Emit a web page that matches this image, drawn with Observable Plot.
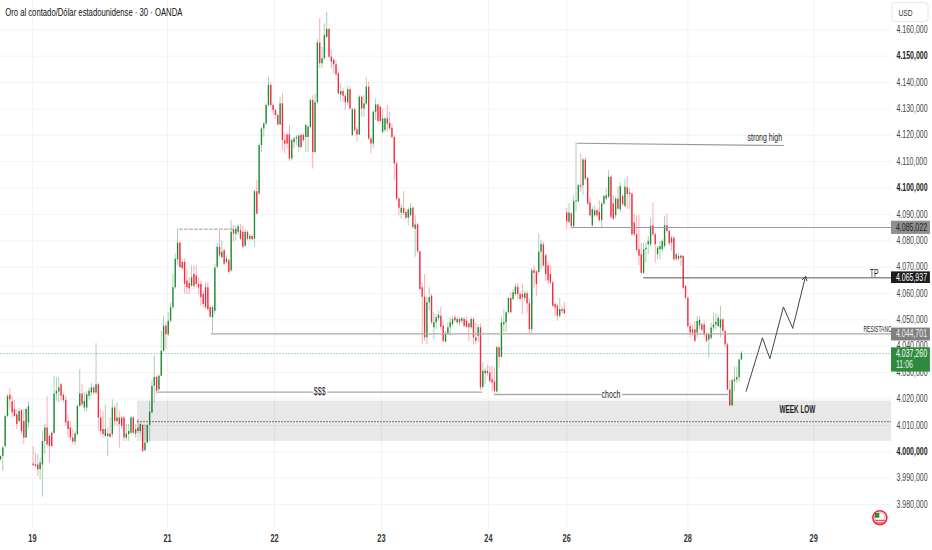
<!DOCTYPE html>
<html><head><meta charset="utf-8">
<script src="https://cdn.jsdelivr.net/npm/d3@7"></script>
<script src="https://cdn.jsdelivr.net/npm/@observablehq/plot@0.6"></script>
<style>html,body{margin:0;padding:0;background:#fff}svg{display:block}</style>
</head><body><div id="chart"></div>
<script>
const open = [
3997,3998.2,4002,4013.4,4021.4,4019,4016,4014,4011.5,4015.6,
4011.5,4005.2,4010.9,null,3995.4,3995,3995,3993.2,3995,4003.9,
4009,4005.8,4007,4007,4021.9,4022.7,4025.4,4021.4,4019.4,4011.5,
4009,4005.2,4003.7,4006.5,4017.2,4021.9,4016.6,4016.6,4021,4022.3,
4024.2,4022.3,4025.4,4012.8,4008.4,4005.8,4005.8,4006.7,4006.5,4016.6,
4011.5,4012.8,4012.8,4012.8,4005.2,4006.5,4007,4012.8,4006.7,4009,
4007.7,4010,4000.4,4003.3,4010,4014.7,4024.8,4028.2,4023.5,4028.6,
4038.1,4047.6,4044.4,4049.5,4054.6,4062.2,4072.8,4079.1,4071.8,4071.8,
4064.7,4063.8,4062.8,4067.2,4066.6,4063.4,4063.4,4059.6,4062.2,4062.2,
4054.6,4050.8,4053.3,4070,4077.5,4073.7,4076.2,4071.8,4072.4,4068.6,
4084.2,4082.5,4083.2,4083.8,4083.2,4078,4083.2,4080.6,4081.6,4080.6,
4098.6,4097.7,4116.1,4122.4,4124.3,4131.3,4138.9,4131.3,4129.4,4127.5,
4123.9,4131.9,4118,4120.1,4120.1,4111,4117.3,4118.6,4115.4,4119.9,
4119.9,4119.2,4119.2,4123,4133.2,4113.5,4132.3,4155,4147.1,4149,
4157.2,4160.1,4149.6,4148.4,4146.7,4143.3,4135.3,4136.6,4134.8,4132.3,
4137.3,4119.9,4129.7,4122,4120.1,4134.4,4130,4131.9,4138.2,4118.6,
4116.7,4128.7,4131.5,4130.6,4121.1,4121.8,4126.2,4124.6,4122.7,4119.2,
4109.1,4095.8,4090.4,4092.3,4090.7,4088.5,4089.5,4092.3,4084.4,4086,
4075.8,4062.2,4058.6,4043.2,4056.5,4059,4047,4048.9,4050.5,4051.4,
4047.6,4041.5,4044.7,4047,4048.2,4050.8,4048.9,4050.1,4049.5,4050.1,
4049.5,4048.5,4047,4050.1,4043.2,4043.8,4047,4024.4,4029.6,4030.5,
4029.9,4027.3,4026.5,4022.7,4039.4,4035.8,4048.2,4048.9,4052.7,4058.1,
4057.7,4059.6,4062.4,4059.6,4059.6,4058.1,4059.9,4056.1,4046.3,4068.6,
4068.2,4068,4075.6,4078.4,4074.3,4070.5,4067.2,4064,4055.8,4055.2,
4051.4,4053.9,4053.9,4090.5,4087,4090.1,4085.4,4094.8,4094.8,4100.9,
4100.9,4110.6,4103.7,4094.3,4085.7,4089.5,4091.4,4090.8,4087.6,4093.9,
4095.8,4096.5,4104.1,4093.9,4089.5,4095.8,4091.8,4096.8,4093,4100,
4098.1,4097.7,4086.7,4082.3,4076.6,4074.7,4067.7,4076.6,4078.5,4078.5,
4085.7,4082.3,4074.7,4076.6,4076.6,4077.8,4085.7,4083.5,4081,4081,
4073,4074.1,4073.4,4074.1,4062.7,4058.2,4047.5,4046.2,4046.2,4045,
4047.7,4048.1,4048.1,4044.3,4042.4,4043,4046.9,4048.1,4047.5,4046.9,
4050,4045.6,4040.5,4023.4,4017.4,4026.6,4027.2,4028.1,4034.8];
const high = [
3998.5,4002,4014,4021.6,4024,4021,4019.4,4016,4016.5,4016,
4016,4016.6,4019,null,4002,3999.5,3998.9,3997.6,4007.7,4010.3,
4021,4006.5,4007.7,4028.6,4028,4028,4026,4022.3,4021,4014,
4011.5,4008.4,4007.7,4017.8,4031.1,4025.4,4022.3,4022.9,4024.2,4026,
4024.8,4041,4026,4016,4015.3,4017.8,4009,4012.8,4019.7,4017.2,
4018.5,4015.3,4013.4,4013.4,4010.3,4010.3,4013.4,4013.4,4010.3,4012.2,
4010.9,4010.3,4010.3,4010.3,4019.1,4027,4036.2,4028.6,4029.2,4045.7,
4051.4,4048.9,4052.7,4056.5,4067.2,4075,4084.4,4079.4,4073,4073,
4069,4066,4070.5,4070.5,4070.5,4065.9,4064.7,4060.9,4064.1,4064.1,
4055.2,4055.2,4071,4079,4083.8,4080,4076.8,4074.3,4073,4087.6,
4085.7,4085.7,4086.3,4086.3,4085.7,4084.4,4083.8,4082.5,4082.5,4099,
4102.8,4116.7,4123,4124.9,4131.9,4142,4139.5,4131.9,4130,4128.1,
4134.4,4136,4120.5,4120.5,4123.7,4118.6,4119.2,4119.9,4120.5,4120.5,
4120.5,4124.3,4123.7,4133.8,4135,4135.7,4156.3,4164.2,4153.4,4162.3,
4166.7,4160.6,4152.2,4149,4148.4,4143.9,4139.5,4137.6,4135.7,4138.6,
4138.2,4130.3,4130.3,4123,4135,4135,4135,4141.6,4140.1,4119.2,
4129.4,4133.8,4131.9,4131,4130,4126.8,4131.3,4128.7,4124.3,4119.9,
4109.7,4096.5,4093.6,4098.6,4091.7,4092.3,4094.2,4093,4089.5,4086.7,
4076,4064,4067.2,4058.6,4062.2,4059.6,4052.7,4052,4053.3,4054.8,
4049.5,4045.7,4048.9,4050.8,4051.4,4051.8,4051,4050.8,4051,4050.8,
4050.8,4048.9,4051,4050.8,4048.9,4048.2,4048.5,4033.7,4031.8,4032.8,
4032.4,4032.4,4031.8,4040,4039.6,4051.4,4053.9,4053.3,4058.6,4060.3,
4061.5,4063.7,4064,4060.3,4063.4,4060.9,4060.9,4058,4069.5,4070.5,
4068.8,4082.5,4080,4079.4,4075,4071.8,4070.5,4064.7,4056.5,4056.1,
4058.1,4055.2,4056.5,4092.3,4093.9,4090.8,4097.1,4117.1,4101.5,4112.9,
4111.3,4111.3,4104,4096.5,4092.7,4093.3,4092,4095.2,4094.6,4097.3,
4099.6,4106.6,4104.7,4097.1,4096.5,4100.3,4101.9,4097.5,4103.2,4104.2,
4100,4098.1,4089.9,4089.5,4089.6,4079.1,4079.1,4079.1,4081.6,4088.6,
4094.3,4082.9,4077.8,4079.7,4080.4,4089.2,4089.9,4084.2,4081.6,4081.6,
4075.3,4075.3,4074.7,4074.3,4063,4058.6,4048.8,4048.1,4049.4,4051.3,
4051.3,4048.8,4049.4,4045,4045,4048.8,4052.5,4052.5,4051.9,4055.1,
4050.6,4046.2,4041.2,4027,4027.5,4032.3,4032,4035,4038];
const low = [
3996.5,3992.5,4001.4,4012.8,4016.6,4012.8,4012.8,4008.4,4010.9,4006.5,
4002.7,4004.9,4009,null,3994.4,3993.8,3990.6,3989.4,3982.8,3998.9,
4002,3995.7,4001.4,4006.5,4019,4018.5,4019,4018.5,4009.6,4005.2,
4003.9,4002.7,4002.4,4006.2,4016.6,4017.2,4015.3,4015,4019.7,4021,
4021.6,4021.6,4007.7,4006.5,4005.2,4005.2,3998.2,4005.2,4005.2,4009.6,
4009.6,4001.4,4008.4,4003.9,4003.9,4003.9,4006.5,4006.5,4005.2,4007,
4006.5,3999.9,4000.1,4003.3,4003.9,4014.3,4018.5,4021.6,4022.9,4028.6,
4037.8,4038.7,4043.8,4048.9,4053.9,4061.5,4070.5,4069.2,4068.6,4059.8,
4059.6,4059.6,4062.2,4061.5,4062.2,4059.6,4055.2,4054.6,4053.9,4053.3,
4050.8,4044.8,4052,4069.5,4073.7,4073,4070.5,4071.1,4067.3,4068,
4079.4,4080,4082,4080,4077,4077.5,4080,4080,4080,4077.5,
4090.1,4097,4113.5,4119.2,4123.7,4130.6,4130.6,4127.5,4126.2,4123.7,
4123.7,4114.2,4112.9,4114.8,4110.1,4110.4,4114.8,4116,4113.5,4114.8,
4117.3,4113.5,4113.5,4122.4,4107.2,4112.9,4131.9,4145.2,4145.2,4148.4,
4156.6,4149.2,4145.2,4143.3,4142.4,4135.3,4132.5,4132.5,4129.4,4131.3,
4129.7,4119.6,4121.1,4117.3,4119.9,4126.8,4126.8,4131.3,4118,4112.9,
4114.8,4125.6,4124.7,4124.7,4120.5,4121.1,4121.1,4121.8,4118.6,4102.8,
4095.2,4089.5,4088.2,4089.5,4087.9,4085.7,4088.9,4084.4,4073.7,4075.3,
4061,4040.6,4041.9,4040.6,4053.3,4048.2,4042.5,4046.3,4049.5,4046.3,
4041.3,4041.3,4044.2,4043.8,4047.6,4048.9,4048.2,4047.6,4048.5,4047,
4046.7,4041.9,4046.3,4040.4,4040.6,4041.3,4023.2,4023.5,4025.4,4028.6,
4026.1,4022.7,4022.3,4022.3,4031.8,4035.6,4045.1,4045.1,4052.3,4052.3,
4057.1,4059,4057.7,4057.1,4052,4057.1,4052.3,4044.7,4044.7,4062,
4059,4067,4069.2,4069.9,4064.7,4063.4,4063.4,4054.6,4051.4,4049.5,
4050.8,4052.3,4052,4084.4,4086.3,4084.4,4084.7,4090.8,4094.3,4098.4,
4097.1,4102.8,4093.5,4088.9,4085,4088.9,4088.9,4087,4085,4093.3,
4095.2,4095.8,4088.2,4087.6,4088.2,4091.4,4090.5,4093,4092.4,4091.8,
4091.8,4081.6,4081.6,4075.3,4070.6,4067.1,4067.1,4071.5,4074.7,4077.8,
4081.6,4071.5,4072.8,4072.8,4075.3,4077.2,4082.9,4078.1,4075.9,4072.2,
4072.2,4072.2,4070.3,4061.4,4057.5,4046.9,4043,4043.7,4041.2,4043,
4046.2,4045.6,4043,4041.2,4035.5,4042.4,4045.6,4046.2,4046.9,4043,
4045,4039.3,4023.2,4017.1,4017.1,4022.8,4026,4026.2,4034.6];
const close = [
3998.2,4001.4,4013.4,4021,4019.7,4014.7,4013.4,4010.3,4015.3,4007.7,
4005.2,4016,4017.2,null,3994.8,3994.4,3993.2,3995.7,4003.9,4009,
4002.7,4002,4002,4021.9,4022.9,4024.2,4021,4019.4,4010.9,4008.4,
4005.2,4003.7,4006.7,4017.2,4021.9,4017.8,4019.1,4021.6,4022.9,4024.2,
4022.3,4025.4,4012.8,4007.7,4006.5,4008.4,4006.7,4005.4,4016.6,4011.5,
4012.8,4010.3,4009.6,4005.2,4006.7,4007.7,4012.8,4007,4008.4,4007.7,
4010.3,4000.1,4003.3,4010,4015,4024.8,4028.2,4022.9,4028.6,4038.1,
4047.6,4044.4,4049.5,4054.6,4062.2,4073,4079.1,4069.9,4069.5,4063.5,
4062.2,4061.8,4066,4062.8,4063.4,4062.2,4058.4,4055.8,4054.6,4053.9,
4051,4054.6,4069.7,4077.5,4074.3,4075.6,4071.1,4073,4068,4083.2,
4082.5,4084.4,4085.3,4080.6,4077.5,4083.2,4080.6,4081.6,4080.4,4098.6,
4090.1,4116.1,4122.4,4124.3,4131.3,4138.9,4131.3,4129.4,4127.5,4123.9,
4131.9,4118,4116.7,4116.7,4111,4118,4118.6,4119.2,4119.6,4115.4,
4118,4123.7,4123,4133.2,4113.5,4132.3,4155,4147.1,4149,4157.8,
4160.1,4149.6,4147.7,4146.7,4142.9,4135.7,4136.6,4134.8,4132.3,4137.3,
4130,4129.7,4121.8,4120.1,4134.4,4130,4131.9,4138.2,4118.6,4116.7,
4128.7,4131.5,4125.2,4125.2,4126.2,4126.2,4124.3,4122.4,4119.2,4109.1,
4095.8,4092.3,4092.3,4090.4,4088.5,4091.7,4092.3,4085,4086,4075.8,
4061.5,4058.6,4043.2,4056.5,4058.4,4048.9,4048.9,4050.8,4051.8,4047.2,
4041.9,4044.7,4047,4048.9,4050.1,4049.7,4050.1,4048.9,4050.4,4047.6,
4047.2,4047,4050.1,4043.2,4041.9,4047,4024.2,4030.5,4030.5,4029.7,
4026.7,4026.1,4022.9,4039.4,4035.8,4048.9,4048.9,4052.7,4058.1,4052.7,
4060.3,4062.4,4059.6,4057.7,4058.4,4059.9,4056.1,4046.3,4068.6,4067.7,
4063.4,4075.6,4078.7,4070.5,4067.2,4064.7,4064,4055.2,4054.6,4051.4,
4053.9,4053.3,4052.3,4087.2,4090.5,4085.4,4094.8,4095.2,4100.9,4100.3,
4110.6,4103.4,4093.9,4089.5,4091.8,4091.4,4089.5,4087.6,4093.9,4096.8,
4097.1,4104.1,4088.9,4088.2,4095.8,4092,4100.6,4093.7,4100.4,4097.5,
4097.5,4082.3,4082.3,4076.3,4074.1,4067.7,4076.6,4077.2,4079.7,4085.4,
4082.3,4078.5,4077.2,4077.8,4079.7,4085.7,4083.5,4078.9,4079.1,4072.8,
4074.7,4073,4074.1,4062,4058.2,4047.5,4045,4045,4041.8,4049.4,
4049.8,4046.2,4044.3,4041.8,4044.3,4046.9,4048.1,4049,4050.6,4050,
4045.6,4040.5,4023.4,4017.4,4026.9,4027.2,4028.2,4034.8,4037.3];

const priceLevels = [4160,4140,4130,4120,4110,4090,4080,4070,4060,4050,4040,4030,4020,4010,3990,3980];
const boldLevels = [4150,4100,4000];
const dayIndex = [13.7,71.7,117.6,163.5,209.4,243,295,349];
const dayLabels = ["19","21","22","23","24","26","28","29"];
const pathIndex = [320,327,330.2,336,340];
const pathPrice = [4022.9,4043.2,4035.3,4054.9,4046.9];

const bars = open.map((o,i)=>({i,o,h:high[i],l:low[i],c:close[i]})).filter(d=>d.o!==null);
const UP="#1f8a34", DOWN="#f5283f";
const color=d=>d.c>=d.o?UP:DOWN;
const fmt=v=>{const s=v.toFixed(0);return s[0]+"."+s.slice(1)+",000";};
const F='"Liberation Sans",sans-serif';
const END=382.4;
const seg=(x1,x2,y1,y2,opt)=>Plot.line([{x:x1,y:y1},{x:x2,y:y2}],{x:"x",y:"y",...opt});
const label=(x,y,t,opt)=>Plot.text([t],{x:()=>x,y:()=>y,text:d=>d,fontFamily:F,fontSize:10,fill:"#222",...opt});
const tag=(y1,y2,fill)=>Plot.rect([0],{x1:()=>END,x2:()=>399.1,y1:()=>y1,y2:()=>y2,fill});

const chart=Plot.plot({
  width:932,height:550,marginTop:0,marginLeft:0,marginRight:41,marginBottom:22,
  x:{domain:[0,END],axis:null},
  y:{domain:[3970.9,4171.1],axis:null},
  style:{background:"#fff",fontFamily:F},
  marks:[
    Plot.ruleY(priceLevels.concat(boldLevels),{stroke:"#f3f3f3"}),
    Plot.ruleX(dayIndex,{stroke:"#f3f3f3"}),
    seg(0,END,4037.26,4037.26,{stroke:"#a9d6b1",strokeDasharray:"1 2",strokeWidth:1}),
    Plot.ruleX(bars,{x:"i",y1:"l",y2:"h",stroke:color,strokeOpacity:.38,strokeWidth:1}),
    Plot.ruleX(bars,{x:"i",y1:"o",y2:"c",stroke:color,strokeWidth:1.35}),
    Plot.rect([0],{x1:()=>58.8,x2:()=>END,y1:()=>4003.9,y2:()=>4019.2,fill:"#000",fillOpacity:.09}),
    seg(58.8,END,4011.4,4011.4,{stroke:"#666",strokeDasharray:"1 2",strokeWidth:1}),
    seg(76.8,99.6,4084.4,4084.4,{stroke:"#999",strokeDasharray:"3 2",strokeWidth:1}),
    seg(90.5,END,4044.7,4044.7,{stroke:"#aaa",strokeWidth:1.4}),
    seg(67.5,134,4022.6,4022.6,{stroke:"#aaa",strokeWidth:1.4}),
    seg(140.6,206.5,4022.6,4022.6,{stroke:"#aaa",strokeWidth:1.4}),
    seg(212,257.5,4021.7,4021.7,{stroke:"#aaa",strokeWidth:1.4}),
    seg(267,312,4021.7,4021.7,{stroke:"#aaa",strokeWidth:1.4}),
    seg(247.5,336,4117,4116.1,{stroke:"#999",strokeWidth:1.1}),
    seg(245,END,4085.022,4085.022,{stroke:"#999",strokeWidth:1}),
    seg(276,END,4065.937,4065.937,{stroke:"#555",strokeWidth:1}),
    Plot.line(pathIndex.map((x,i)=>({x,y:pathPrice[i]})),{x:"x",y:"y",stroke:"#444",strokeWidth:1}),
    Plot.arrow([0],{x1:()=>340,y1:()=>4046.9,x2:()=>345.5,y2:()=>4066.5,stroke:"#444",strokeWidth:1,headLength:7,bend:0}),
    label(137,4022.6,"$$$"),
    label(262,4021.7,"choch"),
    label(328,4118.9,"strong high"),
    label(375,4067.3,"TP"),
    label(370.4,4046.4,"RESISTANCE",{textAnchor:"start",fontSize:9}),
    label(342,4016,"WEEK LOW",{fontWeight:"bold",fontSize:10}),
    label(2,4166.7,"Oro al contado/Dólar estadounidense · 30 · OANDA",{textAnchor:"start",fontSize:11,fill:"#111"}),
    // price panel covers anything running past the plot area
    Plot.rect([0],{x1:()=>END,x2:()=>401,y1:()=>3962,y2:()=>4172,fill:"#fff"}),
    Plot.dot([0],{x:()=>377.4,y:()=>3975,r:7,stroke:"#e8303c",strokeWidth:1.6,fill:"#fff"}),
    Plot.dot([0],{x:()=>377.4,y:()=>3975,r:5,stroke:"#f3a0a6",strokeWidth:1,fill:"#fff"}),
    Plot.rect([0],{x1:()=>375.4,x2:()=>377.4,y1:()=>3974.8,y2:()=>3976.6,fill:"#2e8b3d"}),
    seg(375.4,379.4,3974,3974,{stroke:"#e8303c",strokeWidth:1}),
    seg(375.4,379.4,3973,3973,{stroke:"#e8303c",strokeWidth:1}),
    Plot.axisX({ticks:dayIndex,tickFormat:v=>dayLabels[dayIndex.indexOf(v)],tickSize:0,tickPadding:6,label:null,fontSize:10.5,fontWeight:"bold",fill:"#333"}),
    Plot.axisY({anchor:"right",ticks:priceLevels,tickFormat:fmt,tickSize:0,tickPadding:5,label:null,fontSize:10,fill:"#444"}),
    Plot.axisY({anchor:"right",ticks:boldLevels,tickFormat:fmt,tickSize:0,tickPadding:5,label:null,fontSize:10,fontWeight:"bold",fill:"#222"}),
    Plot.rect([0],{x1:()=>382.8,x2:()=>398.3,y1:()=>4162.9,y2:()=>4170.1,fill:"#fff",stroke:"#e6e6e6",rx:3}),
    label(385.4,4166.5,"USD",{textAnchor:"start",fontSize:9.5,fill:"#333"}),
    tag(4082.4,4087.4,"#8f8f8f"),
    tag(4063.8,4068.2,"#1c1c1c"),
    tag(4042,4046.9,"#808080"),
    tag(4030.2,4039.4,"#2e8b3d"),
    label(384.3,4085,"4.085,022",{textAnchor:"start",fill:"#222"}),
    label(384.3,4065.9,"4.065,937",{textAnchor:"start",fill:"#fff"}),
    label(384.3,4044.7,"4.044,701",{textAnchor:"start",fill:"#eee"}),
    label(384.3,4037,"4.037,260",{textAnchor:"start",fill:"#fff"}),
    label(384.3,4032.8,"11:06",{textAnchor:"start",fill:"#e4f2e6"})
  ]
});
document.getElementById("chart").append(chart);
// the reference's lettering is condensed; no narrow face is installed, so condense each real text element
const squeeze={"WEEK LOW":0.64,"RESISTANCE":0.55};
chart.querySelectorAll("text").forEach(t=>{
  const k=squeeze[t.textContent]||0.7;
  t.setAttribute("textLength",(t.getComputedTextLength()*k).toFixed(1));
  t.setAttribute("lengthAdjust","spacingAndGlyphs");
});
</script></body></html>
